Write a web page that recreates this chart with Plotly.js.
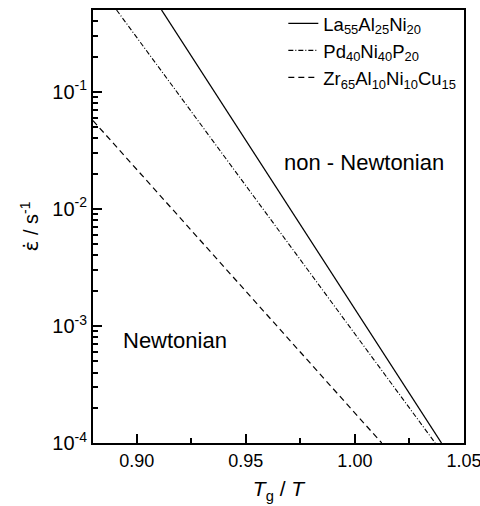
<!DOCTYPE html>
<html>
<head>
<meta charset="utf-8">
<script src="https://cdn.plot.ly/plotly-3.0.1.min.js"></script>
<style>html,body{margin:0;padding:0;background:#fff;}#chart{width:480px;height:506px;}</style>
</head>
<body>
<div id="chart"></div>
<script>
// Series: endpoints (x = Tg/T, y = strain rate in s^-1)
const seriesNames = ["La<sub>55</sub>Al<sub>25</sub>Ni<sub>20</sub>", "Pd<sub>40</sub>Ni<sub>40</sub>P<sub>20</sub>", "Zr<sub>65</sub>Al<sub>10</sub>Ni<sub>10</sub>Cu<sub>15</sub>"];
const laX = [0.9114, 1.0397];
const laY = [0.5, 1e-4];
const pdX = [0.8908, 1.0368];
const pdY = [0.5, 1e-4];
const zrX = [0.88, 1.0123];
const zrY = [0.0568, 1e-4];

const xTickVals = [0.90, 0.95, 1.00, 1.05];
const xTickText = ["0.90", "0.95", "1.00", "1.05"];
const yTickVals = [1e-4, 1e-3, 1e-2, 1e-1];
const yTickText = ["10<sup>-4</sup>", "10<sup>-3</sup>", "10<sup>-2</sup>", "10<sup>-1</sup>"];
const yMinorVals = [];
[1e-4, 1e-3, 1e-2, 1e-1].forEach(d => { for (let k = 2; k <= 9; k++) yMinorVals.push(d * k); });
const xMinorVals = [0.925, 0.975, 1.025];

const FONT = "Liberation Sans, Arial, sans-serif";
const lineStyles = [
  {color: "#000", width: 1.3, dash: "solid"},
  {color: "#000", width: 1.1, dash: "5px,2px,1px,2px"},
  {color: "#000", width: 1.2, dash: "6px,4px"}
];

const traces = [
  {x: laX, y: laY, name: seriesNames[0], mode: "lines", line: lineStyles[0]},
  {x: pdX, y: pdY, name: seriesNames[1], mode: "lines", line: lineStyles[1]},
  {x: zrX, y: zrY, name: seriesNames[2], mode: "lines", line: lineStyles[2]}
];

const layout = {
  width: 480, height: 506,
  margin: {l: 93, r: 16, t: 5, b: 63},
  font: {family: FONT, color: "#000", size: 18},
  showlegend: true,
  legend: {
    x: 0.513, y: 1.012, xanchor: "left", yanchor: "top",
    bgcolor: "rgba(0,0,0,0)", borderwidth: 0,
    font: {family: FONT, size: 18.5, color: "#000"},
    tracegroupgap: 0
  },
  xaxis: {
    range: [0.88, 1.05],
    tickmode: "array", tickvals: xTickVals, ticktext: xTickText,
    ticks: "inside", ticklen: 9, tickwidth: 2, tickcolor: "#000",
    ticklabeloverflow: "allow",
    minor: {tickmode: "array", tickvals: xMinorVals, ticks: "inside", ticklen: 5, tickwidth: 1.8, tickcolor: "#000"},
    showgrid: false, zeroline: false,
    showline: true, linecolor: "#000", linewidth: 2, mirror: true,
    tickfont: {family: FONT, size: 18},
    title: {text: "<i>T</i><sub>g</sub> / <i>T</i>", font: {family: FONT, size: 21}, standoff: 12}
  },
  yaxis: {
    type: "log",
    range: [-4, Math.log10(0.5)],
    tickmode: "array", tickvals: yTickVals, ticktext: yTickText,
    ticks: "inside", ticklen: 9, tickwidth: 2, tickcolor: "#000",
    minor: {tickmode: "array", tickvals: yMinorVals, ticks: "inside", ticklen: 5, tickwidth: 1.8, tickcolor: "#000"},
    showgrid: false, zeroline: false,
    showline: true, linecolor: "#000", linewidth: 2, mirror: true,
    tickfont: {family: FONT, size: 20},
    title: {text: "<span style=\"font-family:DejaVu Sans\">ε̇</span> / s<sup>-1</sup>", font: {family: FONT, size: 20}, standoff: 8}
  },
  annotations: [
    {x: 1.004, y: Math.log10(0.0248), xref: "x", yref: "y", text: "non - Newtonian", showarrow: false,
     font: {family: FONT, size: 22, color: "#000"}, xanchor: "center", yanchor: "middle"},
    {x: 0.9175, y: Math.log10(7.47e-4), xref: "x", yref: "y", text: "Newtonian", showarrow: false,
     font: {family: FONT, size: 22, color: "#000"}, xanchor: "center", yanchor: "middle"}
  ]
};

Plotly.newPlot("chart", traces, layout, {displayModeBar: false});
</script>
</body>
</html>
